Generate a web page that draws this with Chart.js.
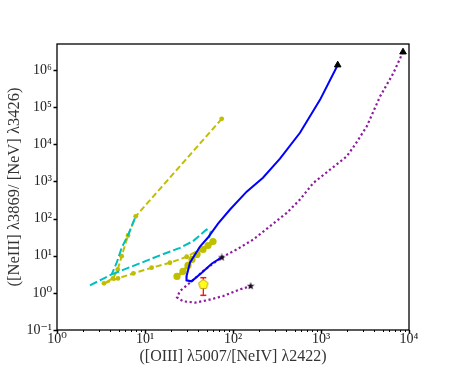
<!DOCTYPE html>
<html>
<head>
<meta charset="utf-8">
<script src="https://cdn.jsdelivr.net/npm/chart.js@4"></script>
<style>
  html, body { margin: 0; padding: 0; background: #fff; }
  #wrap { width: 454px; height: 371px; position: relative; }
</style>
</head>
<body>
<div id="wrap"><canvas id="c" width="454" height="371"></canvas></div>
<script>
// ---- data ----
const xTickValues = [1, 10, 100, 1000, 10000];
const yTickValues = [0.1, 1, 10, 100, 1000, 10000, 100000, 1000000];

const blueX = [1549, 974, 577, 342, 219, 143, 92.5, 67.6, 52.0, 42.2, 32.5, 29.8, 29.6, 33.8, 44.1, 57.7, 74.4];
const blueY = [1.36e6, 1.57e5, 2.04e4, 4080, 1260, 531, 175, 73.4, 30.9, 17.7, 6.59, 2.95, 2.17, 2.04, 3.49, 6.19, 8.98];

const purpleX = [8550, 6635, 4680, 3307, 2434, 1959, 1265, 818, 577, 408, 263, 170, 110, 74.4, 48.1, 32.5, 25.0, 23.1, 27.0, 37.0, 50.7, 77.6, 120, 158.8];
const purpleY = [3.04e6, 8.15e5, 1.92e5, 3.0e4, 9700, 4700, 2066, 908, 324, 142, 62.1, 27.3, 14.7, 8.98, 4.27, 1.88, 1.12, 0.757, 0.592, 0.546, 0.630, 0.820, 1.24, 1.52];

const yellowX = [74.4, 7.84, 6.41, 5.43, 4.90, 4.33, 3.42, 4.93, 7.36, 11.9, 19.2, 29.8, 42.2, 57.3];
const yellowY = [4.84e4, 115, 35.0, 9.72, 4.27, 2.45, 1.80, 2.45, 3.34, 4.75, 6.47, 9.37, 14.7, 22.3];

const yellowThickX = [23.1, 27.0, 30.8, 34.2, 39.0, 45.6, 52.0, 59.3];
const yellowThickY = [2.77, 3.78, 5.47, 7.93, 10.8, 14.7, 18.8, 24.1];

const cyanAX = [2.37, 4.18, 4.77, 5.43, 6.46, 7.70];
const cyanAY = [1.59, 3.14, 6.47, 16.3, 37.2, 104];
const cyanBX = [4.18, 14.8, 25.0, 35.1, 50.0, 55.8, 53.4];
const cyanBY = [3.14, 10.2, 16.3, 24.6, 50.7, 44.8, 30.0];

const triangleX = [1549, 8550];
const triangleY = [1.36e6, 3.04e6];
const starX = [74.4, 158.8];
const starY = [8.98, 1.52];

const obsX = [46.0];
const obsY = [1.74];
const obsErrLow = [0.857];
const obsErrHigh = [2.56];

// ---- helpers ----
const pts = (xs, ys) => xs.map((x, i) => ({x: x, y: ys[i]}));
const SUP = {'-':'\u207B','0':'\u2070','1':'\u00B9','2':'\u00B2','3':'\u00B3','4':'\u2074','5':'\u2075','6':'\u2076','7':'\u2077','8':'\u2078','9':'\u2079'};
const powLabel = v => {
  const e = Math.round(Math.log10(v));
  return '10' + String(e).split('').map(c => SUP[c]).join('');
};

function makeStar(size, fill) {
  const c = document.createElement('canvas');
  c.width = size; c.height = size;
  const g = c.getContext('2d');
  const cx = size / 2, cy = size / 2, R = size / 2, r = R * 0.42;
  g.beginPath();
  for (let i = 0; i < 10; i++) {
    const a = -Math.PI / 2 + i * Math.PI / 5;
    const rr = i % 2 === 0 ? R : r;
    const px = cx + rr * Math.cos(a), py = cy + rr * Math.sin(a);
    if (i === 0) g.moveTo(px, py); else g.lineTo(px, py);
  }
  g.closePath();
  g.fillStyle = fill; g.fill();
  return c;
}
function makePentagon(size, fill, stroke) {
  const c = document.createElement('canvas');
  c.width = size; c.height = size;
  const g = c.getContext('2d');
  const cx = size / 2, cy = size / 2 + 0.5, R = size / 2 - 1;
  g.beginPath();
  for (let i = 0; i < 5; i++) {
    const a = -Math.PI / 2 + i * 2 * Math.PI / 5;
    const px = cx + R * Math.cos(a), py = cy + R * Math.sin(a);
    if (i === 0) g.moveTo(px, py); else g.lineTo(px, py);
  }
  g.closePath();
  g.fillStyle = fill; g.fill();
  g.lineWidth = 1; g.strokeStyle = stroke; g.stroke();
  return c;
}
const starImg = makeStar(8, '#1a0a22');
const pentImg = makePentagon(12, '#ffff1a', '#c8a000');

const YELLOW = '#bfbf00';
const CYAN = '#00bfbf';
const BLUE = '#0000ff';
const PURPLE = '#8e1a9e';

const frame = {
  id: 'frame',
  afterDraw(chart) {
    const {ctx, chartArea: a, scales} = chart;
    const sx = scales.x, sy = scales.y;
    ctx.save();
    ctx.strokeStyle = '#000';
    ctx.lineWidth = 1.3;
    ctx.strokeRect(a.left, a.top, a.right - a.left, a.bottom - a.top);
    // x ticks
    ctx.lineWidth = 1.5;
    xTickValues.forEach(v => {
      const p = Math.round(sx.getPixelForValue(v)) + 0.5;
      ctx.beginPath(); ctx.moveTo(p, a.bottom); ctx.lineTo(p, a.bottom + 3.5); ctx.stroke();
    });
    ctx.lineWidth = 1;
    for (let d = 0; d < xTickValues.length - 1; d++) {
      for (let k = 2; k <= 9; k++) {
        const p = Math.round(sx.getPixelForValue(xTickValues[d] * k)) + 0.5;
        ctx.beginPath(); ctx.moveTo(p, a.bottom); ctx.lineTo(p, a.bottom + 2); ctx.stroke();
      }
    }
    // y ticks
    ctx.lineWidth = 1.5;
    yTickValues.forEach(v => {
      const p = Math.round(sy.getPixelForValue(v)) + 0.5;
      ctx.beginPath(); ctx.moveTo(a.left - 3.5, p); ctx.lineTo(a.left, p); ctx.stroke();
    });
    ctx.restore();
  }
};

const FONT = "'Liberation Serif', 'DejaVu Serif', serif";

new Chart(document.getElementById('c'), {
  type: 'scatter',
  data: {
    datasets: [
      { label: 'obs', data: pts(obsX, obsY), showLine: false, pointStyle: pentImg, pointRadius: 6 },
      { label: 'err', data: [{x: obsX[0], y: obsErrLow[0]}, {x: obsX[0], y: obsErrHigh[0]}], showLine: true,
        borderColor: '#ff1010', borderWidth: 1.3, pointStyle: 'line', pointRadius: 3, pointBorderWidth: 1.5,
        pointBorderColor: '#ff1010' },
      { label: 'stars', data: pts(starX, starY), showLine: false, pointStyle: starImg, pointRadius: 4 },
      { label: 'triangles', data: pts(triangleX, triangleY), showLine: false, pointStyle: 'triangle',
        pointRadius: 3.8, backgroundColor: '#000', borderColor: '#000', pointBorderWidth: 1 },
      { label: 'blue', data: pts(blueX, blueY), showLine: true, borderColor: BLUE, borderWidth: 2,
        pointRadius: 0, tension: 0 },
      { label: 'purple', data: pts(purpleX, purpleY), showLine: true, borderColor: PURPLE, borderWidth: 2.2,
        borderDash: [2.2, 2.6], pointRadius: 0, tension: 0, borderCapStyle: 'butt' },
      { label: 'cyanB', data: pts(cyanBX, cyanBY), showLine: true, borderColor: CYAN, borderWidth: 2,
        borderDash: [8, 3], pointRadius: 0, tension: 0 },
      { label: 'yellowThick', data: pts(yellowThickX, yellowThickY), showLine: true, borderColor: YELLOW,
        borderWidth: 3, borderDash: [6, 3], pointRadius: 3.6, pointBackgroundColor: YELLOW,
        pointBorderColor: YELLOW, pointBorderWidth: 0 },
      { label: 'cyanA', data: pts(cyanAX, cyanAY), showLine: true, borderColor: CYAN, borderWidth: 2,
        borderDash: [8, 3], pointRadius: 0 },
      { label: 'yellow', data: pts(yellowX, yellowY), showLine: true, borderColor: YELLOW,
        borderWidth: 2, borderDash: [6, 3], pointRadius: 2.4, pointBackgroundColor: YELLOW,
        pointBorderColor: YELLOW, pointBorderWidth: 0 }
    ]
  },
  options: {
    responsive: false,
    animation: false,
    layout: { padding: { top: 44, right: 45, left: 0, bottom: 0 } },
    plugins: { legend: { display: false }, tooltip: { enabled: false } },
    scales: {
      x: {
        type: 'logarithmic', min: 1, max: 10000,
        afterBuildTicks: s => { s.ticks = xTickValues.map(v => ({value: v})); },
        afterFit: s => { s.height = 41; },
        grid: { display: false, drawTicks: false }, border: { display: false },
        ticks: { autoSkip: false, maxRotation: 0, padding: 1, color: '#222',
          font: { family: FONT, size: 14 }, callback: v => powLabel(v) },
        title: { display: true, text: '([OIII] \u03BB5007/[NeIV] \u03BB2422)', color: '#333',
          font: { family: FONT, size: 16, style: 'normal' }, padding: { top: 0, bottom: 5 } }
      },
      y: {
        type: 'logarithmic', min: 0.1, max: 5e6,
        afterBuildTicks: s => { s.ticks = yTickValues.map(v => ({value: v})); },
        afterFit: s => { s.width = 57; },
        grid: { display: false, drawTicks: false }, border: { display: false },
        ticks: { autoSkip: false, padding: 5, color: '#222',
          font: { family: FONT, size: 14 }, callback: v => powLabel(v) },
        title: { display: true, text: '([NeIII] \u03BB3869/ [NeV] \u03BB3426)', color: '#333',
          font: { family: FONT, size: 16.5, style: 'normal' }, padding: { top: 5, bottom: 0 } }
      }
    }
  },
  plugins: [frame]
});
</script>
</body>
</html>
